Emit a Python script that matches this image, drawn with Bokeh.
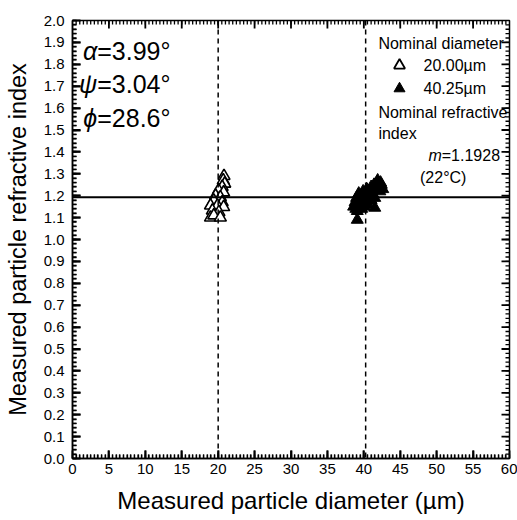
import numpy as np
from bokeh.plotting import figure
from bokeh.models import (Range1d, SingleIntervalTicker, NumeralTickFormatter, Span, Label)
from bokeh.embed import file_html
from bokeh.resources import INLINE

# ---- data ----
open_x = [20.8, 20.7, 20.9, 20.55, 20.05, 20.75, 19.65, 20.3, 19.4, 20.55, 18.95, 19.9,
          20.75, 19.2, 20.1, 18.95, 19.4, 20.3]
open_y = [1.29, 1.27, 1.255, 1.24, 1.225, 1.215, 1.20, 1.193, 1.178, 1.17, 1.155, 1.155,
          1.148, 1.132, 1.125, 1.10, 1.11, 1.10]

filled_x = [38.6, 38.8, 39.0, 39.2, 39.4, 39.6, 39.3, 39.8, 40.0, 40.2, 39.9, 40.4, 40.6,
            40.8, 41.0, 41.2, 41.4, 41.6, 41.8, 42.0, 42.2, 42.4, 41.9, 41.5, 41.0, 40.5,
            39.7, 39.1, 38.9, 41.5, 39.1, 40.1, 40.3, 42.6, 42.3]
filled_y = [1.15, 1.17, 1.19, 1.16, 1.18, 1.20, 1.21, 1.17, 1.19, 1.21, 1.22, 1.23, 1.20,
            1.22, 1.24, 1.21, 1.25, 1.23, 1.26, 1.24, 1.22, 1.25, 1.27, 1.19, 1.18, 1.16,
            1.14, 1.13, 1.14, 1.145, 1.09, 1.15, 1.18, 1.23, 1.26]

nominal_d = [20.0, 40.25]
nominal_m = 1.1928

x_min, x_max, x_major, x_minor = 0.0, 60.0, 5.0, 0.5
y_min, y_max, y_major, y_minor = 0.0, 2.0, 0.1, 0.02

FONT = "Liberation Sans"

p = figure(width=517, height=520, output_backend="svg", toolbar_location=None,
           x_range=Range1d(x_min, x_max), y_range=Range1d(y_min, y_max),
           min_border_left=72, min_border_right=8, min_border_top=20, min_border_bottom=62,
           x_axis_label="Measured particle diameter (µm)",
           y_axis_label="Measured particle refractive index")

p.grid.visible = False
p.outline_line_color = "black"
p.outline_line_width = 1.5

p.xaxis.ticker = SingleIntervalTicker(interval=x_major, num_minor_ticks=10)
p.yaxis.ticker = SingleIntervalTicker(interval=y_major, num_minor_ticks=5)
p.yaxis.formatter = NumeralTickFormatter(format="0.0")

for ax in p.xaxis + p.yaxis:
    ax.major_tick_in = 8
    ax.major_tick_out = 0
    ax.minor_tick_in = 4
    ax.minor_tick_out = 0
    ax.major_tick_line_color = "black"
    ax.minor_tick_line_color = "black"
    ax.major_tick_line_width = 1.8
    ax.minor_tick_line_width = 1.3
    ax.axis_line_color = "black"
    ax.axis_line_width = 1.5
    ax.major_label_text_font = FONT
    ax.major_label_text_font_size = "15px"
    ax.major_label_text_color = "black"
    ax.axis_label_text_font = FONT
    ax.axis_label_text_font_style = "normal"
    ax.axis_label_text_color = "black"
p.xaxis.axis_label_text_font_size = "24px"
p.yaxis.axis_label_text_font_size = "23.5px"
p.xaxis.major_label_standoff = 5
p.xaxis.axis_label_standoff = 10
p.yaxis.major_label_standoff = 8
p.yaxis.axis_label_standoff = 10

# inward ticks on all four sides drawn as dash markers centred on the frame edges
def edge_ticks(xstep, ystep, size, width):
    xs = [float(v) for v in np.arange(x_min + xstep, x_max - 1e-9, xstep)]
    ys = [float(v) for v in np.arange(y_min + ystep, y_max - 1e-9, ystep)]
    p.scatter(xs + xs, [y_min] * len(xs) + [y_max] * len(xs), marker="dash",
              angle=np.pi / 2, size=size, line_color="black", line_width=width)
    p.scatter([x_min] * len(ys) + [x_max] * len(ys), ys + ys, marker="dash",
              angle=0, size=size, line_color="black", line_width=width)

edge_ticks(x_minor, y_minor, 8, 1.3)
edge_ticks(x_major, y_major, 16, 1.8)

# reference lines
for d in nominal_d:
    p.add_layout(Span(location=d, dimension="height", line_color="black",
                      line_width=1.5, line_dash="5 4"))
p.add_layout(Span(location=nominal_m, dimension="width", line_color="black",
                  line_width=2))

# data
p.scatter(open_x, open_y, marker="triangle", size=12, fill_color="white",
          line_color="black", line_width=1.6)
p.scatter(filled_x, filled_y, marker="triangle", size=12, fill_color="black",
          line_color="black", line_width=1)

# angle annotations
for sym, rest, yy in [("α", "=3.99°", 1.863), ("ψ", "=3.04°", 1.708), ("ϕ", "=28.6°", 1.557)]:
    p.add_layout(Label(x=3.4, y=yy, text=sym, text_font=FONT, text_font_style="italic",
                       text_font_size="25px", text_align="right", text_baseline="middle",
                       text_color="black"))
    p.add_layout(Label(x=3.4, y=yy, text=rest, text_font=FONT,
                       text_font_size="25px", text_align="left", text_baseline="middle",
                       text_color="black"))

# legend-like text block
def lab(x, y, t, align="left", style="normal"):
    p.add_layout(Label(x=x, y=y, text=t, text_font=FONT, text_font_style=style,
                       text_font_size="16px", text_align=align, text_baseline="middle",
                       text_color="black"))

lab(42.0, 1.895, "Nominal diameter")
lab(48.2, 1.795, "20.00µm")
lab(48.2, 1.689, "40.25µm")
lab(42.0, 1.580, "Nominal refractive")
lab(42.0, 1.484, "index")
lab(50.7, 1.384, "m", align="right", style="italic")
lab(50.7, 1.384, "=1.1928")
lab(50.9, 1.283, "(22°C)", align="center")

p.scatter([44.9], [1.795], marker="triangle", size=11, fill_color="white",
          line_color="black", line_width=1.8)
p.scatter([44.9], [1.689], marker="triangle", size=11, fill_color="black",
          line_color="black")

open("out.html", "w").write(file_html(p, INLINE))
